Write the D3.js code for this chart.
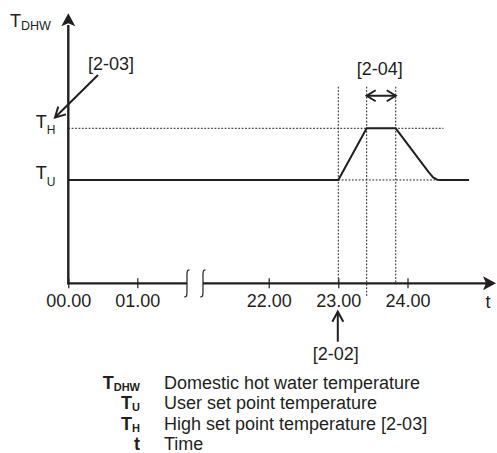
<!DOCTYPE html>
<html>
<head>
<meta charset="utf-8">
<script src="https://cdn.jsdelivr.net/npm/d3@7"></script>
<style>
  html, body { margin: 0; padding: 0; background: #fff; }
  svg { display: block; }
  text { font-family: "Liberation Sans", Arial, sans-serif; fill: #231f20; }
</style>
</head>
<body>
<svg id="chart" width="497" height="453"></svg>
<script>
// ---- data ----
const tickTimes = [0, 1, 22, 23, 24];
const tickLabels = ["00.00", "01.00", "22.00", "23.00", "24.00"];
const breakTimes = [8.94, 11.5];
const lineTimes  = [0, 23, 23.41, 23.83, 24.30, 24.37, 24.43, 24.49, 24.89];
const lineValues = [40, 40, 60, 60, 43.2, 41.0, 40.1, 40, 40];
const userSetPoint = 40;   // T_U
const highSetPoint = 60;   // T_H
const startTime = 23;      // [2-02]
const highStart = 23.41;
const highEnd = 23.83;     // [2-04]
const legendSymbols = [["T", "DHW"], ["T", "U"], ["T", "H"], ["t", ""]];
const legendTexts = ["Domestic hot water temperature", "User set point temperature",
                     "High set point temperature [2-03]", "Time"];

// ---- scales ----
const x = d3.scaleLinear().domain([0, 1, 22, 23, 24]).range([68.3, 137.3, 268.7, 338.3, 407.5]);
const y = d3.scaleLinear().domain([0, 60]).range([283.3, 128.3]);
const ink = "#231f20";
const svg = d3.select("#chart");

function chevron(g, tx, ty, angle, back, half) {
  const ca = Math.cos(angle), sa = Math.sin(angle);
  const bx = tx - back * ca, by = ty - back * sa;
  const p1 = [bx - half * sa, by + half * ca];
  const p2 = [bx + half * sa, by - half * ca];
  g.append("path")
    .attr("d", `M${p1[0]},${p1[1]} L${tx},${ty} L${p2[0]},${p2[1]}`)
    .attr("fill", "none").attr("stroke", ink).attr("stroke-width", 2)
    .attr("stroke-linejoin", "miter");
}

// ---- dotted guides ----
const dash = "1.8,1.6";
const guides = svg.append("g").attr("stroke", ink).attr("stroke-width", 1).attr("stroke-dasharray", dash);
guides.append("line").attr("x1", x(0)).attr("x2", x(24.52)).attr("y1", y(highSetPoint)).attr("y2", y(highSetPoint));
guides.append("line").attr("x1", x(startTime)).attr("x2", x(24.47)).attr("y1", y(userSetPoint)).attr("y2", y(userSetPoint));
guides.append("line").attr("x1", x(startTime)).attr("x2", x(startTime)).attr("y1", y(76.1)).attr("y2", y(0));
guides.append("line").attr("x1", x(highStart)).attr("x2", x(highStart)).attr("y1", y(76.1)).attr("y2", y(-5.2));
guides.append("line").attr("x1", x(highEnd)).attr("x2", x(highEnd)).attr("y1", y(76.1)).attr("y2", y(0));

// ---- temperature line ----
const pts = lineTimes.map((t, i) => [t, lineValues[i]]);
svg.append("path")
  .datum(pts)
  .attr("d", d3.line().x(d => x(d[0])).y(d => y(d[1])))
  .attr("fill", "none").attr("stroke", ink).attr("stroke-width", 2)
  .attr("stroke-linejoin", "round");

// ---- axes ----
svg.append("line").attr("x1", x(0)).attr("x2", x(0)).attr("y1", y(0) + 1).attr("y2", y(100))
  .attr("stroke", ink).attr("stroke-width", 2.4);
svg.append("path")
  .attr("d", `M${x(0)},${y(104.5)} L${x(0) + 7},${y(104.5) + 13} L${x(0)},${y(104.5) + 10} L${x(0) - 7},${y(104.5) + 13} Z`)
  .attr("fill", ink);

const axY = y(0);
svg.append("line").attr("x1", x(0) - 1.2).attr("x2", x(breakTimes[0])).attr("y1", axY).attr("y2", axY)
  .attr("stroke", ink).attr("stroke-width", 2.2);
svg.append("line").attr("x1", x(breakTimes[1])).attr("x2", 487).attr("y1", axY).attr("y2", axY)
  .attr("stroke", ink).attr("stroke-width", 2.2);
svg.append("path")
  .attr("d", `M496,${axY} L483,${axY - 7} L486,${axY} L483,${axY + 7} Z`)
  .attr("fill", ink);

breakTimes.forEach(bt => {
  const cx = x(bt);
  svg.append("path")
    .attr("d", `M${cx + 2.6},${axY - 13} C${cx - 0.5},${axY - 14.5} ${cx},${axY - 9} ${cx},${axY - 5} L${cx},${axY + 6} C${cx},${axY + 10} ${cx + 0.3},${axY + 14.5} ${cx - 2.6},${axY + 13.3}`)
    .attr("fill", "none").attr("stroke", ink).attr("stroke-width", 1.2);
});

const xAxis = d3.axisBottom(x)
  .tickValues(tickTimes)
  .tickFormat((d, i) => tickLabels[i])
  .tickSize(10)
  .tickPadding(5.5);
const gx = svg.append("g").attr("transform", `translate(0,${axY - 5})`).call(xAxis);
gx.select(".domain").remove();
gx.selectAll(".tick line").attr("stroke", ink).attr("stroke-width", 1.2);
gx.selectAll(".tick text").attr("font-size", 18).attr("fill", ink)
  .attr("font-family", "'Liberation Sans', Arial, sans-serif");

svg.append("text").attr("x", 488).attr("y", 307.5).attr("text-anchor", "middle")
  .attr("font-size", 18).text("t");

// ---- axis labels ----
function subLabel(xp, yp, main, sub, size, subSize, dy, bold, anchor) {
  const t = svg.append("text").attr("x", xp).attr("y", yp).attr("font-size", size)
    .attr("text-anchor", anchor || "start")
    .attr("font-weight", bold ? "bold" : "normal");
  t.append("tspan").text(main);
  if (sub) t.append("tspan").attr("dy", dy).attr("font-size", subSize).text(sub);
  return t;
}
subLabel(10, 26.7, "T", "DHW", 18, 12.5, 3.5, false);
subLabel(35.7, y(highSetPoint), "T", "H", 18, 12, 6, false);
subLabel(35.7, y(userSetPoint) - 1, "T", "U", 18, 12, 7, false);

// ---- annotations ----
const ann = svg.append("g");
ann.append("text").attr("x", 111).attr("y", 70).attr("text-anchor", "middle").attr("font-size", 18).text("[2-03]");
ann.append("line").attr("x1", 98).attr("y1", 75).attr("x2", 56).attr("y2", 116.5)
  .attr("stroke", ink).attr("stroke-width", 2);
chevron(ann, 55, 117.5, Math.atan2(117.5 - 75, 55 - 98), 10, 5.5);

const arY = y(72.6);
ann.append("text").attr("x", (x(highStart) + x(highEnd)) / 2 - 1.5).attr("y", 74.5)
  .attr("text-anchor", "middle").attr("font-size", 18).text("[2-04]");
ann.append("line").attr("x1", x(highStart) + 1).attr("x2", x(highEnd) - 1).attr("y1", arY).attr("y2", arY)
  .attr("stroke", ink).attr("stroke-width", 2);
chevron(ann, x(highStart), arY, Math.PI, 9, 5.5);
chevron(ann, x(highEnd), arY, 0, 9, 5.5);

ann.append("line").attr("x1", x(startTime) - 0.5).attr("x2", x(startTime) - 0.5).attr("y1", 313).attr("y2", 341.7)
  .attr("stroke", ink).attr("stroke-width", 2);
chevron(ann, x(startTime) - 0.5, 311.7, -Math.PI / 2, 10, 5.5);
ann.append("text").attr("x", x(startTime) - 2.5).attr("y", 360).attr("text-anchor", "middle")
  .attr("font-size", 18).text("[2-02]");

// ---- legend ----
const legend = svg.append("g");
legendSymbols.forEach((s, i) => {
  const yy = 389 + i * 20.3;
  const t = legend.append("text").attr("x", 140).attr("y", yy).attr("text-anchor", "end")
    .attr("font-size", 18).attr("font-weight", "bold");
  t.append("tspan").text(s[0]);
  if (s[1]) t.append("tspan").attr("dy", 2).attr("font-size", 11).text(s[1]);
  legend.append("text").attr("x", 164).attr("y", yy).attr("font-size", 18).text(legendTexts[i]);
});
</script>
</body>
</html>
